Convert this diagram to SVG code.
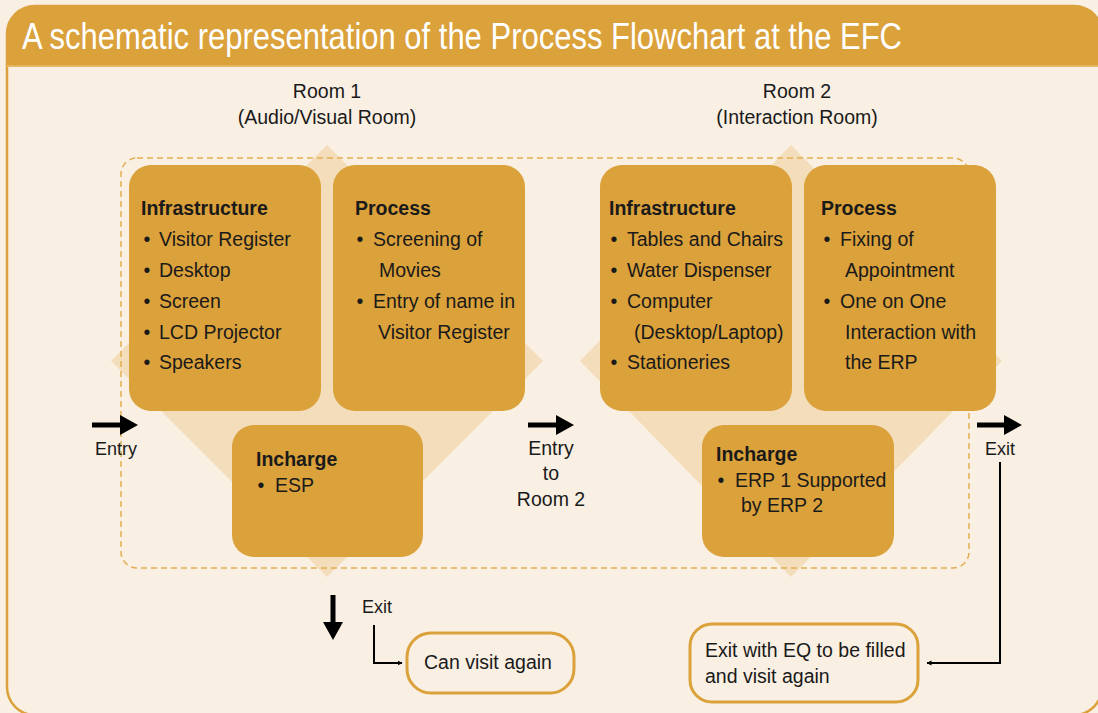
<svg xmlns="http://www.w3.org/2000/svg" width="1098" height="713" viewBox="0 0 1098 713">
<style>
.t{font-family:"Liberation Sans",Arial,sans-serif;font-size:19.5px;fill:#1a1a1a}
.s{font-size:18px}
.h{font-weight:bold}
.c{text-anchor:middle}
.box{fill:#DBA13A}
.dia{fill:#F3DDBA}
.ob{fill:#F9EFE2;stroke:#DBA13A;stroke-width:3}
.thin{fill:none;stroke:#000;stroke-width:2}
.thick{fill:none;stroke:#000;stroke-width:5}
</style>
<defs>
<marker id="ah" viewBox="0 0 10 10" refX="9" refY="5" markerWidth="5" markerHeight="6" orient="auto" markerUnits="userSpaceOnUse">
<path d="M0,0 L10,5 L0,10 z" fill="#000"/>
</marker>
</defs>
<rect width="1098" height="713" fill="#F9EFE2"/>
<g id="panel">
<rect x="7" y="6" width="1095" height="709" rx="28" fill="#F9EFE2" stroke="#DBA13A" stroke-width="2.5"/>
<path d="M7,66 L7,34 A28,28 0 0 1 35,6 L1074,6 A28,28 0 0 1 1102,34 L1102,66 Z" fill="#DBA13A"/>
<rect x="7" y="65" width="1095" height="2" fill="#E6B762"/>
<text x="22" y="49" font-family="'Liberation Sans',Arial,sans-serif" font-size="36" fill="#fff" textLength="880" lengthAdjust="spacingAndGlyphs">A schematic representation of the Process Flowchart at the EFC</text>
</g>
<g id="diamonds">
<polygon class="dia" points="327,145 543,361 327,577 111,361"/>
<polygon class="dia" points="791,145 1002,361 791,577 580,361"/>
</g>
<rect x="121" y="158" width="848" height="410" rx="16" fill="none" stroke="#E3AE52" stroke-width="1.5" stroke-dasharray="6 4"/>
<g id="room1-label">
<text class="t c" x="327" y="98">Room 1</text>
<text class="t c" x="327" y="124">(Audio/Visual Room)</text>
</g>
<g id="room2-label">
<text class="t c" x="797" y="98">Room 2</text>
<text class="t c" x="797" y="124">(Interaction Room)</text>
</g>
<g id="r1-infra">
<rect class="box" x="129" y="165" width="192" height="246" rx="22"/>
<text class="t h" x="141" y="215">Infrastructure</text>
<text class="t c" x="147" y="246">•</text><text class="t" x="159" y="246">Visitor Register</text>
<text class="t c" x="147" y="277">•</text><text class="t" x="159" y="277">Desktop</text>
<text class="t c" x="147" y="308">•</text><text class="t" x="159" y="308">Screen</text>
<text class="t c" x="147" y="339">•</text><text class="t" x="159" y="339">LCD Projector</text>
<text class="t c" x="147" y="369">•</text><text class="t" x="159" y="369">Speakers</text>
</g>
<g id="r1-process">
<rect class="box" x="333" y="165" width="192" height="246" rx="22"/>
<text class="t h" x="355" y="215">Process</text>
<text class="t c" x="360" y="246">•</text><text class="t" x="373" y="246">Screening of</text>
<text class="t" x="379" y="277">Movies</text>
<text class="t c" x="360" y="308">•</text><text class="t" x="373" y="308">Entry of name in</text>
<text class="t" x="378" y="339">Visitor Register</text>
</g>
<g id="r1-incharge">
<rect class="box" x="232" y="425" width="191" height="132" rx="22"/>
<text class="t h" x="256" y="466">Incharge</text>
<text class="t c" x="261" y="492">•</text><text class="t" x="275" y="492">ESP</text>
</g>
<g id="r2-infra">
<rect class="box" x="600" y="165" width="192" height="246" rx="22"/>
<text class="t h" x="609" y="215">Infrastructure</text>
<text class="t c" x="614" y="246">•</text><text class="t" x="627" y="246">Tables and Chairs</text>
<text class="t c" x="614" y="277">•</text><text class="t" x="627" y="277">Water Dispenser</text>
<text class="t c" x="614" y="308">•</text><text class="t" x="627" y="308">Computer</text>
<text class="t" x="634" y="339">(Desktop/Laptop)</text>
<text class="t c" x="614" y="369">•</text><text class="t" x="627" y="369">Stationeries</text>
</g>
<g id="r2-process">
<rect class="box" x="804" y="165" width="192" height="246" rx="22"/>
<text class="t h" x="821" y="215">Process</text>
<text class="t c" x="827" y="246">•</text><text class="t" x="840" y="246">Fixing of</text>
<text class="t" x="845" y="277">Appointment</text>
<text class="t c" x="827" y="308">•</text><text class="t" x="840" y="308">One on One</text>
<text class="t" x="845" y="339">Interaction with</text>
<text class="t" x="845" y="369">the ERP</text>
</g>
<g id="r2-incharge">
<rect class="box" x="702" y="425" width="192" height="132" rx="22"/>
<text class="t h" x="716" y="461">Incharge</text>
<text class="t c" x="721" y="487">•</text><text class="t" x="735" y="487">ERP 1 Supported</text>
<text class="t" x="741" y="512">by ERP 2</text>
</g>
<g id="can-visit">
<rect class="ob" x="407" y="633" width="167" height="60" rx="24"/>
<text class="t" x="424" y="669">Can visit again</text>
</g>
<g id="exit-eq">
<rect class="ob" x="690" y="624" width="228" height="78" rx="22"/>
<text class="t" x="705" y="657">Exit with EQ to be filled</text>
<text class="t" x="705" y="683">and visit again</text>
</g>
<g id="labels">
<text class="t c s" x="116" y="455">Entry</text>
<text class="t c" x="551" y="455">Entry</text>
<text class="t c" x="551" y="480">to</text>
<text class="t c" x="551" y="506">Room 2</text>
<text class="t c s" x="1000" y="455">Exit</text>
<text class="t s" x="362" y="613">Exit</text>
</g>
<g id="connectors">
<line class="thick" x1="92" y1="425" x2="122" y2="425"/>
<polygon points="120,415 138,425 120,435" fill="#000"/>
<line class="thick" x1="528" y1="425" x2="558" y2="425"/>
<polygon points="556,415 574,425 556,435" fill="#000"/>
<line class="thick" x1="977" y1="425" x2="1006" y2="425"/>
<polygon points="1004,415 1022,425 1004,435" fill="#000"/>
<line class="thick" x1="333" y1="595" x2="333" y2="624"/>
<polygon points="323,622 343,622 333,640" fill="#000"/>
<path class="thin" d="M374,625 V663 H402" marker-end="url(#ah)"/>
<path class="thin" d="M1000,462 V663 H927" marker-end="url(#ah)"/>
</g>
</svg>
